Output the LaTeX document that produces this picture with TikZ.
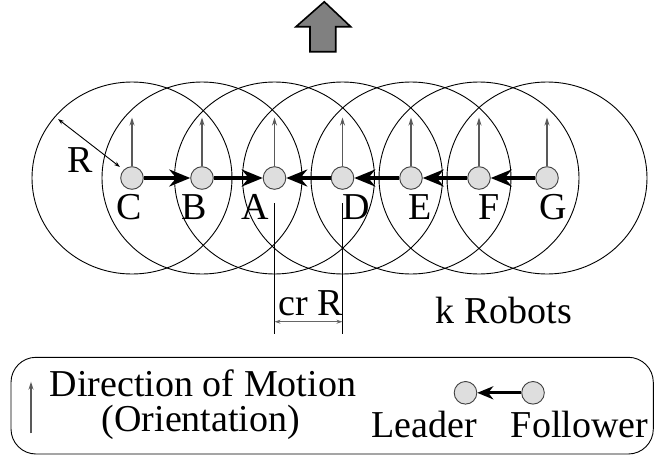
\documentclass[tikz,border=0pt]{standalone}
\usepackage{fontspec}
\setmainfont{Liberation Serif}
\usetikzlibrary{arrows.meta}
\begin{document}
\begin{tikzpicture}[x=1pt,y=-1pt,
  robot/.style={circle, draw=black!75, fill=black!13, line width=0.9pt,
    minimum size=22.6pt, inner sep=0pt},
  lbl/.style={anchor=base, inner sep=0pt, font=\fontsize{38}{40}\selectfont},
  sensing/.style={draw=black, line width=0.9pt},
  follow/.style={line width=3.6pt, -{Stealth[length=21pt,width=17pt,inset=7pt]}},
  smallfollow/.style={line width=3pt, -{Stealth[length=16pt,width=13pt,inset=5pt]}},
  heading/.style={draw=black!65, line width=1.2pt, -{Stealth[length=8pt,width=5pt]}},
  dimline/.style={draw=black!60, line width=1pt, {Stealth[length=6pt,width=4pt]}-{Stealth[length=6pt,width=4pt]}},
  motion/.style={draw=black, fill=black!50, line width=1.6pt, line join=miter}
]
\useasboundingbox (0,0) rectangle (670,458);

% direction of travel of the whole formation
\draw[motion] (324.3,1.8) -- (350.7,26.7) -- (335.7,26.7) -- (335.7,51.7)
  -- (310,51.7) -- (310,26.7) -- (296,26.7) -- cycle;

% robot positions
\coordinate (pC) at (132,178);
\coordinate (pB) at (202,178);
\coordinate (pA) at (274.5,178);
\coordinate (pD) at (342.5,178);
\coordinate (pE) at (411,178);
\coordinate (pF) at (479,178);
\coordinate (pG) at (547,178);

% sensing ranges
\foreach \p in {pC,pB,pA,pD,pE,pF,pG}
  \draw[sensing] (\p) ellipse [x radius=100, y radius=96];

% robots
\node[robot] (C) at (pC) {};
\node[robot] (B) at (pB) {};
\node[robot] (A) at (pA) {};
\node[robot] (D) at (pD) {};
\node[robot] (E) at (pE) {};
\node[robot] (F) at (pF) {};
\node[robot] (G) at (pG) {};

% orientations
\foreach \r in {C,B,A,D,E,F,G}
  \draw[heading] (\r.north) -- (\r |- 0,117.5);

% follower -> leader links
\draw[follow] (C) -- (B);
\draw[follow] (B) -- (A);
\draw[follow] (D) -- (A);
\draw[follow] (E) -- (D);
\draw[follow] (F) -- (E);
\draw[follow] (G) -- (F);

% robot names
\node[lbl] (lC) at (129,219.5) {C};
\node[lbl] (lB) at (194.5,219.5) {B};
\node[lbl] (lA) at (255.5,219.5) {A};
\node[lbl] (lD) at (356,219.5) {D};
\node[lbl] (lE) at (420.5,219.5) {E};
\node[lbl] (lF) at (489,219.5) {F};
\node[lbl] (lG) at (553.7,219.5) {G};

% range radius
\coordinate (r1) at (58,119);
\coordinate (r2) at (120,167);
\draw[line width=0.9pt, {Stealth[length=6pt,width=4pt]}-{Stealth[length=6pt,width=4pt]}] (r1) -- (r2);
\node[lbl] (lR) at (80.5,172.7) {R};

% spacing between A and D
\draw[line width=0.9pt] (A |- 0,203) -- (A |- 0,334);
\draw[line width=0.9pt] (D |- 0,203) -- (D |- 0,334);
\draw[dimline] (A |- 0,321.7) -- (D |- 0,321.7);
\node[lbl] (lcr) at (311,315) {cr R};

\node[lbl] (lk) at (504,323.3) {k Robots};

% legend
\node[draw, line width=0.9pt, rounded corners=25pt, minimum width=642.3pt,
  minimum height=96.7pt, inner sep=0pt] (legend) at (332.15,405.65) {};
\coordinate (h1) at (31,433.3);
\coordinate (h2) at (31,381.7);
\draw[heading] (h1) -- (h2);
\node[lbl] (ldir) at (203,396.7) {Direction of Motion};
\node[lbl] (lori) at (201,431.7) {(Orientation)};
\node[robot] (L) at (465.5,392.8) {};
\node[robot] (Fw) at (533,392.8) {};
\draw[smallfollow] (Fw) -- (L);
\node[lbl] (lL) at (424,437.5) {Leader};
\node[lbl] (lFw) at (579.5,437.5) {Follower};
\end{tikzpicture}
\end{document}
